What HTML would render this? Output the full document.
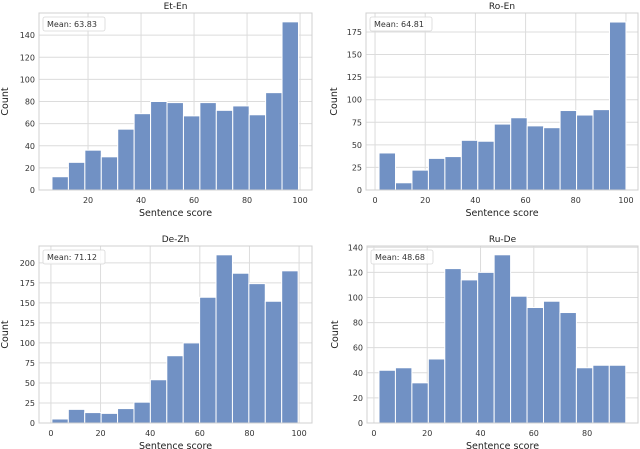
<!DOCTYPE html>
<html><head><meta charset="utf-8">
<style>
html,body{margin:0;padding:0;background:#fff;}
svg{display:block;font-family:"DejaVu Sans","Liberation Sans",sans-serif;}
</style></head>
<body>
<svg id="chart" width="640" height="449" viewBox="0 0 640 449" xmlns="http://www.w3.org/2000/svg"></svg>
<script>
const titles = ["Et-En", "Ro-En", "De-Zh", "Ru-De"];
const means = ["Mean: 63.83", "Mean: 64.81", "Mean: 71.12", "Mean: 48.68"];
const etEnCounts = [12,25,36,30,55,69,80,79,67,79,72,76,68,88,152];
const roEnCounts = [41,8,22,35,37,55,54,73,80,71,69,88,83,89,186];
const deZhCounts = [5,17,13,12,18,26,54,84,100,157,210,187,174,152,190];
const ruDeCounts = [42,44,32,51,123,114,120,134,101,92,97,88,44,46,46];
const binStarts = [6.4, 1.6, 0.4, 1.9];
const binEnds = [99.4, 100, 99.6, 94.5];
const yTicks1 = [0,20,40,60,80,100,120,140];
const yTicks2 = [0,25,50,75,100,125,150,175];
const yTicks3 = [0,25,50,75,100,125,150,175,200];
const yTicks4 = [0,20,40,60,80,100,120,140];
const xTicks1 = [20,40,60,80,100];
const xTicks2 = [0,20,40,60,80,100];
const xTicks3 = [0,20,40,60,80,100];
const xTicks4 = [0,20,40,60,80];

const NS = "http://www.w3.org/2000/svg";
const svg = document.getElementById("chart");
function mk(tag, attrs, parent){
  const e = document.createElementNS(NS, tag);
  for (const k in attrs) e.setAttribute(k, attrs[k]);
  (parent||svg).appendChild(e);
  return e;
}
const panels = [
  {counts: etEnCounts, yt: yTicks1, xt: xTicks1, L:39, R:312, T:13, B:190, xmin:1.5, xmax:104.5, ymax:160},
  {counts: roEnCounts, yt: yTicks2, xt: xTicks2, L:366, R:638, T:13, B:190, xmin:-3.6, xmax:104.8, ymax:196},
  {counts: deZhCounts, yt: yTicks3, xt: xTicks3, L:39, R:312, T:246, B:423, xmin:-4.8, xmax:105.2, ymax:221},
  {counts: ruDeCounts, yt: yTicks4, xt: xTicks4, L:367, R:638, T:246, B:423, xmin:-2.6, xmax:99.1, ymax:141}
];
panels.forEach((p, i) => {
  const g = mk("g", {});
  
  
  const xs = v => p.L + (v - p.xmin) / (p.xmax - p.xmin) * (p.R - p.L);
  const ys = v => p.B - v / p.ymax * (p.B - p.T);
  p.yt.forEach(t => {
    const l = mk("line", {x1:p.L, x2:p.R, y1:ys(t), y2:ys(t), stroke:"#dcdcdc", "stroke-width":1}, g);
    
    
    const tx = mk("text", {x:p.L-4, y:ys(t)+3, "text-anchor":"end", "font-size":8, fill:"#333"}, g);
    tx.textContent = t;
    
    
  });
  p.xt.forEach(t => {
    const l = mk("line", {x1:xs(t), x2:xs(t), y1:p.T, y2:p.B, stroke:"#dcdcdc", "stroke-width":1}, g);
    
    
    const tx = mk("text", {x:xs(t), y:p.B+13, "text-anchor":"middle", "font-size":8, fill:"#333"}, g);
    tx.textContent = t;
    
    
  });
  const n = p.counts.length;
  const w = (binEnds[i] - binStarts[i]) / n;
  p.counts.forEach((c, k) => {
    const x0 = xs(binStarts[i] + k*w), x1 = xs(binStarts[i] + (k+1)*w);
    const b = mk("rect", {x:x0, y:ys(c), width:x1-x0, height:p.B-ys(c), fill:"#7191c4", stroke:"#fff", "stroke-width":1}, g);
    
    
  });
  const f = mk("rect", {x:p.L, y:p.T, width:p.R-p.L, height:p.B-p.T, fill:"none", stroke:"#d0d0d0", "stroke-width":1}, g);
  
  
  const ti = mk("text", {x:(p.L+p.R)/2, y:p.T-4, "text-anchor":"middle", "font-size":9, fill:"#222"}, g);
  ti.textContent = titles[i];
  
  
  const xl = mk("text", {x:(p.L+p.R)/2, y:p.B+26, "text-anchor":"middle", "font-size":9.5, fill:"#222"}, g);
  xl.textContent = "Sentence score";
  
  
  const cx = p.L - (i % 2 === 0 ? 31 : 29), cy = (p.T+p.B)/2;
  const yl = mk("text", {x:cx, y:cy, "text-anchor":"middle", "font-size":9.5, fill:"#222", transform:`rotate(-90 ${cx} ${cy})`}, g);
  yl.textContent = "Count";
  
  
  const lg = mk("rect", {x:p.L+4, y:p.T+4, width:62, height:14, rx:2, fill:"#fff", "fill-opacity":0.85, stroke:"#d8d8d8", "stroke-width":0.8}, g);
  
  
  const lt = mk("text", {x:p.L+8, y:p.T+14, "font-size":8, fill:"#333"}, g);
  lt.textContent = means[i];
  
  
});
</script>
</body></html>
